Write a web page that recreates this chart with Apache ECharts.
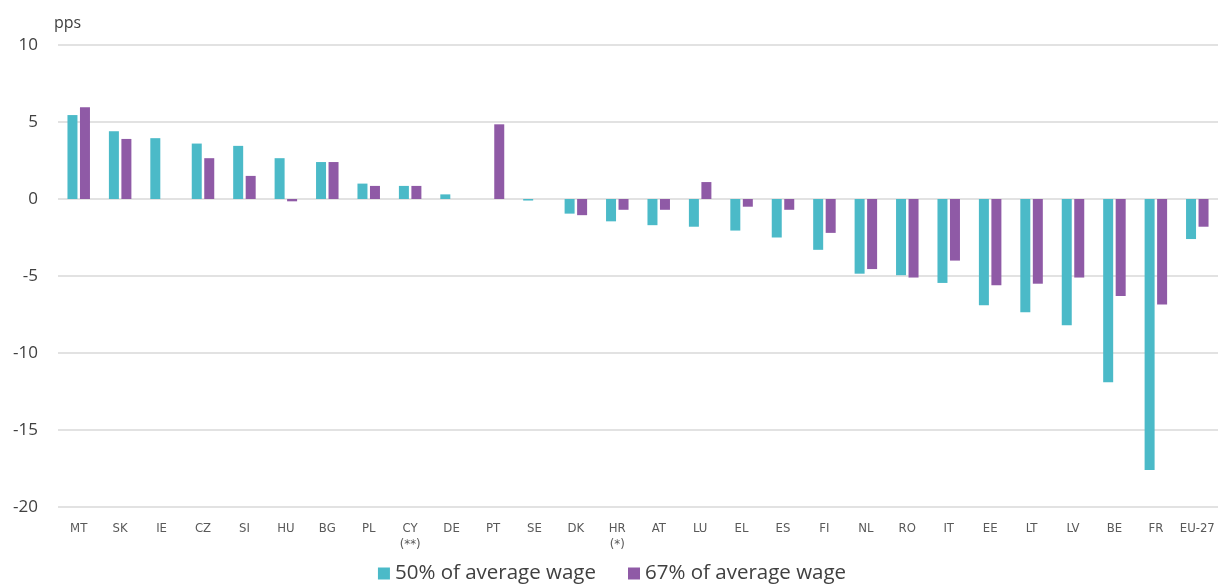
<!DOCTYPE html>
<html>
<head>
<meta charset="utf-8">
<script src="https://cdn.jsdelivr.net/npm/echarts@6/dist/echarts.min.js"></script>
<style>html,body{margin:0;padding:0;background:#fff;}#c{width:1224px;height:586px;}</style>
</head>
<body>
<div id="c"></div>
<script>
const categories = ['MT','SK','IE','CZ','SI','HU','BG','PL','CY\n(**)','DE','PT','SE','DK','HR\n(*)','AT','LU','EL','ES','FI','NL','RO','IT','EE','LT','LV','BE','FR','EU-27'];
const wage50 = [5.45,4.4,3.95,3.6,3.45,2.65,2.4,1.0,0.85,0.3,0,-0.1,-0.95,-1.45,-1.7,-1.8,-2.05,-2.5,-3.3,-4.85,-4.95,-5.45,-6.9,-7.35,-8.2,-11.9,-17.6,-2.6];
const wage67 = [5.95,3.9,0,2.65,1.5,-0.15,2.4,0.85,0.85,0,4.85,0,-1.05,-0.7,-0.7,1.1,-0.5,-0.7,-2.2,-4.55,-5.1,-4.0,-5.6,-5.5,-5.1,-6.3,-6.85,-1.8];
const seriesNames = ['50% of average wage','67% of average wage'];
const yTicks = {min:-20,max:10,interval:5};

const chart = echarts.init(document.getElementById('c'), null, {renderer:'canvas'});
const font = "'Open Sans', 'Noto Sans', sans-serif";
chart.setOption({
  animation:false,
  textStyle:{fontFamily:font},
  grid:{left:58,right:6,top:45,bottom:79,containLabel:false},
  legend:{
    bottom:-3,left:'center',
    itemWidth:12,itemHeight:12,itemGap:32,icon:'rect',
    textStyle:{fontSize:20.5,color:'#404040',fontFamily:font},
    data:seriesNames
  },
  xAxis:{
    type:'category',data:categories,
    axisLine:{show:false},axisTick:{show:false},
    axisLabel:{color:'#595959',fontSize:13,margin:14,interval:0,lineHeight:16,fontFamily:"'Liberation Sans Narrow','DejaVu Sans Condensed',sans-serif"}
  },
  yAxis:{
    type:'value',min:yTicks.min,max:yTicks.max,interval:yTicks.interval,
    name:'pps',nameLocation:'end',nameGap:14,
    nameTextStyle:{color:'#404040',fontSize:16,align:'left',padding:[0,0,0,-4]},
    axisLine:{show:false},axisTick:{show:false},
    axisLabel:{color:'#404040',fontSize:17,margin:20},
    splitLine:{lineStyle:{color:'#d9d9d9',width:1.5}}
  },
  series:[
    {name:seriesNames[0],type:'bar',data:wage50,barWidth:10,barGap:'25%',itemStyle:{color:'#4bbac8'}},
    {name:seriesNames[1],type:'bar',data:wage67,barWidth:10,barGap:'25%',itemStyle:{color:'#8f5aa6'}}
  ]
});
</script>
</body>
</html>
